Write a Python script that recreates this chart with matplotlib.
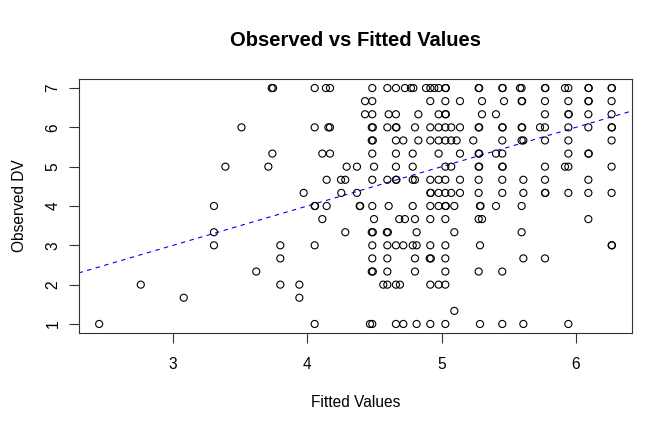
import matplotlib
matplotlib.use("Agg")
import matplotlib.pyplot as plt
import numpy as np

# ---- data: fitted values for each observed level ----
fit_7_00 = [3.735, 3.745, 4.055, 4.139, 4.169, 4.484, 4.596, 4.660, 4.727, 4.772, 4.790, 4.884,
            4.916, 4.946, 4.978, 5.028, 5.032, 5.276, 5.280, 5.452, 5.455, 5.584, 5.596,
            5.770, 5.773, 5.919, 5.944, 6.093, 6.096, 6.266, 6.268]
fit_6_67 = [4.430, 4.484, 4.916, 5.028, 5.137, 5.301, 5.465, 5.596, 5.600, 5.770, 5.944,
            6.093, 6.096, 6.266]
fit_6_33 = [4.430, 4.484, 4.606, 4.660, 4.827, 4.978, 5.028, 5.032, 5.301, 5.405, 5.770,
            5.944, 5.947, 6.093, 6.266]
fit_6_00 = [3.51, 4.055, 4.157, 4.169, 4.480, 4.488, 4.596, 4.660, 4.664, 4.802, 4.916, 4.978,
            5.028, 5.072, 5.137, 5.276, 5.280, 5.452, 5.455, 5.596, 5.600, 5.733, 5.770,
            5.944, 6.093, 6.266, 6.269]
fit_5_67 = [4.480, 4.488, 4.660, 4.715, 4.827, 4.916, 4.978, 5.028, 5.072, 5.112, 5.236,
            5.452, 5.596, 5.609, 5.770, 5.944, 6.266]
fit_5_33 = [3.74, 4.112, 4.169, 4.484, 4.660, 4.785, 4.978, 5.137, 5.276, 5.280, 5.405,
            5.452, 5.944, 6.093, 6.096]
fit_5_00 = [3.39, 3.71, 4.293, 4.370, 4.497, 4.660, 4.785, 5.028, 5.072, 5.276, 5.280,
            5.452, 5.455, 5.770, 5.919, 5.944, 6.266]
fit_4_67 = [4.144, 4.251, 4.283, 4.484, 4.596, 4.660, 4.664, 4.785, 4.802, 4.916, 4.978,
            5.028, 5.137, 5.276, 5.452, 5.609, 5.770, 6.093]
fit_4_33 = [3.973, 4.253, 4.370, 4.916, 4.920, 4.978, 5.028, 5.072, 5.137, 5.276, 5.452,
            5.609, 5.770, 5.773, 5.944, 6.093, 6.266]
fit_4_00 = [3.305, 4.055, 4.058, 4.144, 4.390, 4.394, 4.484, 4.606, 4.785, 4.916, 4.978,
            5.028, 5.032, 5.095, 5.286, 5.290, 5.405, 5.596]
fit_3_67 = [4.112, 4.497, 4.685, 4.727, 4.802, 4.916, 5.028, 5.276, 5.301, 6.093]
fit_3_33 = [3.305, 4.283, 4.480, 4.488, 4.592, 4.600, 4.814, 5.095, 5.596]
fit_3_00 = [3.305, 3.799, 4.055, 4.484, 4.596, 4.660, 4.715, 4.785, 4.814, 4.916, 5.028,
            5.286, 6.266, 6.269]
fit_2_67 = [3.799, 4.484, 4.596, 4.802, 4.912, 4.920, 5.028, 5.609, 5.770]
fit_2_33 = [3.62, 4.480, 4.488, 4.596, 4.802, 5.028, 5.276, 5.452]
fit_2_00 = [2.76, 3.799, 3.941, 4.566, 4.596, 4.660, 4.690, 4.916, 4.978, 5.028]
fit_1_67 = [3.08, 3.941]
fit_1_33 = [5.095]
fit_1_00 = [2.45, 4.055, 4.467, 4.484, 4.660, 4.715, 4.814, 4.916, 5.028, 5.286, 5.452,
            5.609, 5.944]

observed_levels = [7.0, 6.667, 6.333, 6.0, 5.667, 5.333, 5.0, 4.667, 4.333, 4.0,
                   3.667, 3.333, 3.0, 2.667, 2.333, 2.0, 1.667, 1.333, 1.0]
fitted_rows = [fit_7_00, fit_6_67, fit_6_33, fit_6_00, fit_5_67, fit_5_33, fit_5_00,
               fit_4_67, fit_4_33, fit_4_00, fit_3_67, fit_3_33, fit_3_00, fit_2_67,
               fit_2_33, fit_2_00, fit_1_67, fit_1_33, fit_1_00]

x_ticks = [3, 4, 5, 6]
y_ticks = [1, 2, 3, 4, 5, 6, 7]

fitted = np.concatenate([np.array(r) for r in fitted_rows])
observed = np.concatenate([np.full(len(r), lv) for r, lv in zip(fitted_rows, observed_levels)])

plt.rcParams['font.family'] = ['Liberation Sans', 'DejaVu Sans']

W, H = 672, 432
fig = plt.figure(figsize=(W / 100, H / 100), dpi=100)
L, R, T, B = 78.6, 632.0, 78.6, 333.4
ax = fig.add_axes([L / W, 1 - B / H, (R - L) / W, (B - T) / H])

ax.scatter(fitted, observed, s=26, facecolors='none', edgecolors='black', linewidths=0.8, zorder=3)
ax.axline((0, 0), slope=1, color='#0000FF', lw=0.8, linestyle=(0, (4, 4)), zorder=2)

ax.set_xlim(2.297, 6.418)
ax.set_ylim(0.76, 7.24)

ax.set_xticks(x_ticks)
ax.set_xticklabels([str(t) for t in x_ticks])
ax.set_yticks(y_ticks)
ax.set_yticklabels([str(t) for t in y_ticks], rotation=90, va='center')

ax.tick_params(axis='both', direction='out', length=7, width=0.8, labelsize=11.2, color='#333333')
ax.tick_params(axis='x', pad=10)
ax.tick_params(axis='y', pad=6)
for sp in ax.spines.values():
    sp.set_linewidth(0.8)
    sp.set_color('#333333')

fig.text((L + R) / 2 / W, 1 - 40.5 / H, 'Observed vs Fitted Values', ha='center', va='center',
         fontsize=14.5, fontweight='bold')
fig.text((L + R) / 2 / W, 1 - 402.7 / H, 'Fitted Values', ha='center', va='center', fontsize=11.2)
fig.text(20 / W, 1 - (T + B) / 2 / H, 'Observed DV', ha='center', va='center', rotation=90,
         fontsize=11.2)

fig.savefig('out.png', dpi=100)
